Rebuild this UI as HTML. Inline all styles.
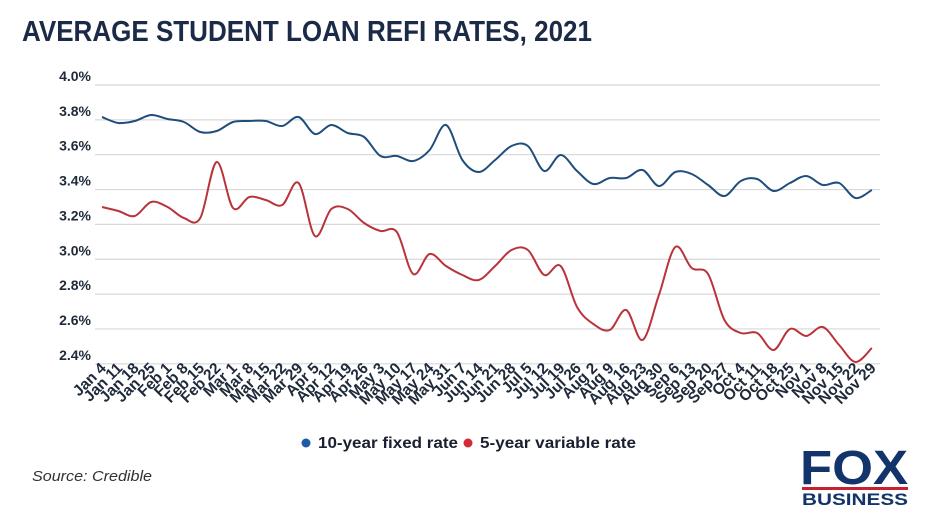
<!DOCTYPE html>
<html><head><meta charset="utf-8"><style>
body{margin:0;background:#fff;width:932px;height:524px;overflow:hidden;font-family:"Liberation Sans",sans-serif}
</style></head><body>
<svg id="s" width="932" height="524" xmlns="http://www.w3.org/2000/svg">
<text x="22" y="41" font-family="Liberation Sans" font-weight="bold" font-size="29" fill="#1b2a47" textLength="570" lengthAdjust="spacingAndGlyphs">AVERAGE STUDENT LOAN REFI RATES, 2021</text>
<g id="grid"></g>
<g id="lab"></g>
<path id="b" fill="none" stroke="#1f4e7d" stroke-width="2"/>
<path id="r" fill="none" stroke="#b9333b" stroke-width="2"/>
<circle cx="306" cy="443" r="4.5" fill="#1e5aa8"/>
<text x="318" y="448" font-size="16" font-weight="bold" fill="#1a2030" textLength="140" lengthAdjust="spacingAndGlyphs">10-year fixed rate</text>
<circle cx="468" cy="443" r="4.5" fill="#d42a35"/>
<text x="480" y="448" font-size="16" font-weight="bold" fill="#1a2030" textLength="156" lengthAdjust="spacingAndGlyphs">5-year variable rate</text>
<text x="32" y="481" font-size="15" font-style="italic" fill="#333" textLength="120" lengthAdjust="spacingAndGlyphs">Source: Credible</text>
<text x="800" y="484" font-size="48" font-weight="bold" fill="#12346b" textLength="108" lengthAdjust="spacingAndGlyphs">FOX</text>
<rect x="802" y="487" width="106" height="3" fill="#c8202f"/>
<text x="802" y="505" font-size="17" font-weight="bold" fill="#12346b" textLength="106" lengthAdjust="spacingAndGlyphs">BUSINESS</text>
</svg>
<script>
var ns="http://www.w3.org/2000/svg";
function el(t,a,p,txt){var e=document.createElementNS(ns,t);for(var k in a)e.setAttribute(k,a[k]);if(txt)e.textContent=txt;document.getElementById(p).appendChild(e);}
var ys=["4.0%","3.8%","3.6%","3.4%","3.2%","3.0%","2.8%","2.6%","2.4%"];
for(var i=0;i<9;i++){var y=85+i*34.85;
el("line",{x1:95,x2:880,y1:y,y2:y,stroke:"#d8d8d8","stroke-width":1.2},"grid");
el("text",{x:91,y:y-4,"text-anchor":"end","font-size":14,"font-weight":"bold",fill:"#1e2a3a"},"lab",ys[i]);}
var labs=["Jan 4","Jan 11","Jan 18","Jan 25","Feb 1","Feb 8","Feb 15","Feb 22","Mar 1","Mar 8","Mar 15","Mar 22","Mar 29","Apr 5","Apr 12","Apr 19","Apr 26","May 3","May 10","May 17","May 24","May 31","Jun 7","Jun 14","Jun 21","Jun 28","Jul 5","Jul 12","Jul 19","Jul 26","Aug 2","Aug 9","Aug 16","Aug 23","Aug 30","Sep 6","Sep 13","Sep 20","Sep 27","Oct 4","Oct 11","Oct 18","Oct 25","Nov 1","Nov 8","Nov 15","Nov 22","Nov 29"];
var B=[117,123,121,115,119,122,132,131,122,121,121,126,117,134,125,133,137,156,156,161,150,125,160,172,160,146,146,171,155,171,184,178,178,170,186,172,174,185,196,181,179,191,183,176,185,183,198,190];
var R=[207,211,216,202,207,218,218,162,208,197,200,205,183,236,209,209,223,231,232,274,254,266,275,280,266,250,250,275,266,307,324,330,310,340,295,247,268,274,320,333,333,350,329,336,327,345,362,348];
function X(i){return 102+i*16.38;}
function path(Y){var d="M"+X(0)+","+Y[0];for(var i=0;i<Y.length-1;i++){var p0=Y[Math.max(i-1,0)],p1=Y[i],p2=Y[i+1],p3=Y[Math.min(i+2,Y.length-1)];
var x0=X(Math.max(i-1,0)),x1=X(i),x2=X(i+1),x3=X(Math.min(i+2,Y.length-1));
d+=" C"+(x1+(x2-x0)/6)+","+(p1+(p2-p0)/6)+" "+(x2-(x3-x1)/6)+","+(p2-(p3-p1)/6)+" "+x2+","+p2;}return d;}
document.getElementById("b").setAttribute("d",path(B));
document.getElementById("r").setAttribute("d",path(R));
for(var i=0;i<labs.length;i++){var x=X(i)+5,y=369;
el("text",{x:x,y:y,"text-anchor":"end","font-size":15.5,"font-weight":"bold",fill:"#1e2a3a",transform:"rotate(-45 "+x+" "+y+")"},"lab",labs[i]);}
</script>
</body></html>
